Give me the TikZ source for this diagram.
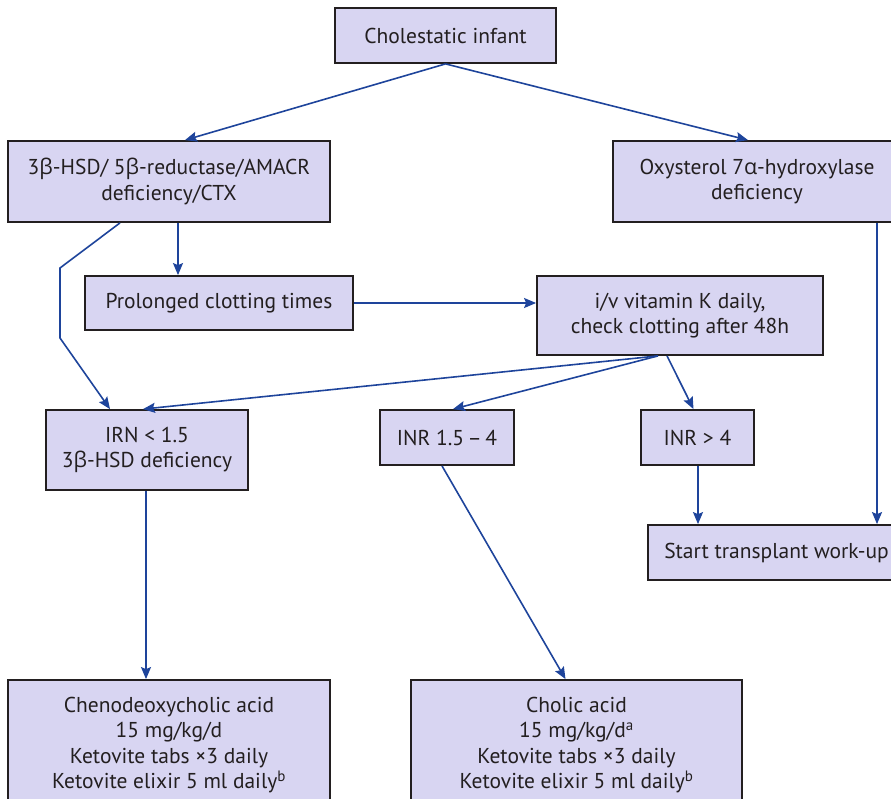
\documentclass[tikz,border=0pt]{standalone}
\usepackage{fontspec}
\setmainfont{PT Sans}
\newfontfamily\greekfont{Open Sans}
\newcommand{\gb}{{\greekfont β}}
\newcommand{\ga}{{\greekfont α}}
\usetikzlibrary{arrows.meta,calc}
\definecolor{boxfill}{RGB}{216,213,242}
\definecolor{boxline}{RGB}{35,31,32}
\definecolor{linkblue}{RGB}{30,68,155}
\begin{document}
\begin{tikzpicture}[x=1pt,y=-1pt,
  box/.style={draw=boxline, line width=1.8pt, fill=boxfill, inner sep=0pt,
    align=center, font=\fontsize{21.5}{25.5}\selectfont, text=boxline},
  link/.style={draw=linkblue, line width=1.6pt,
    -{Stealth[length=12pt,width=10pt,inset=2pt]}},
]
\useasboundingbox (0,0) rectangle (891,798);
\clip (0,0) rectangle (891,798);

% boxes
\node[box, minimum width=221pt, minimum height=55pt] (top) at (445.5,35.5) {Cholestatic infant};
\node[box, minimum width=322pt, minimum height=81pt] (L1) at (169,181.5)
  {3\gb-HSD/ 5\gb-reductase/AMACR\\deficiency/CTX};
\node[box, minimum width=288pt, minimum height=81pt] (R1) at (757,181.5)
  {Oxysterol 7\ga-hydroxylase\\deficiency};
\node[box, minimum width=268pt, minimum height=54pt] (clot) at (219,303) {Prolonged clotting times};
\node[box, minimum width=286pt, minimum height=79pt] (vitK) at (680,315.5)
  {i/v vitamin K daily,\\check clotting after 48h};
\node[box, minimum width=202pt, minimum height=80pt] (irn) at (147,450)
  {IRN < 1.5\\3\gb-HSD deficiency};
\node[box, minimum width=134pt, minimum height=55pt] (mid) at (447,437.5) {INR 1.5\,–\,4};
\node[box, minimum width=113pt, minimum height=55pt] (high) at (697.5,437.5) {INR > 4};
\node[box, minimum width=257pt, minimum height=55pt] (tx) at (776.5,552.5) {Start transplant work-up};
\node[box, minimum width=322pt, minimum height=130pt] (cdca) at (169,745)
  {Chenodeoxycholic acid\\15 mg/kg/d\\Ketovite tabs ×3 daily\\Ketovite elixir 5 ml daily\textsuperscript{b}};
\node[box, minimum width=331pt, minimum height=130pt] (ca) at (576.5,745)
  {Cholic acid\\15 mg/kg/d\textsuperscript{a}\\Ketovite tabs ×3 daily\\Ketovite elixir 5 ml daily\textsuperscript{b}};

% bends of the left-hand connector
\coordinate (bendA) at (60,268);
\coordinate (bendB) at (60,338);
% feet of the vertical connectors
\coordinate (r1foot) at ($(R1.south)+(120,0)$);
\coordinate (irnfoot) at ($(irn.south)+(-1,0)$);
\coordinate (l1foot) at ($(L1.south)+(9,0)$);
\coordinate (highfoot) at ($(high.south)+(0.5,0)$);

% connectors
\draw[link] (top.south) -- ($(L1.north)+(16,0)$);
\draw[link] (top.south) -- ($(R1.north)+(-9,0)$);
\draw[link] (l1foot) -- (l1foot |- clot.north);
\draw[link] ($(L1.south)+(-49,0)$) -- (bendA) -- (bendB) -- ($(irn.north)+(-37,0)$);
\draw[link] (clot.east) -- (clot.east -| vitK.west);
\draw[link] ($(vitK.south)+(-22,0)$) -- ($(irn.north)+(-4,0)$);
\draw[link] ($(vitK.south)+(-22,0)$) -- ($(mid.north)+(6,0)$);
\draw[link] ($(vitK.south)+(-13,0)$) -- ($(high.north)+(-4,0)$);
\draw[link] (highfoot) -- (highfoot |- tx.north);
\draw[link] (r1foot) -- (r1foot |- tx.north);
\draw[link] (irnfoot) -- (irnfoot |- cdca.north);
\draw[link] ($(mid.south)+(-5,0)$) -- ($(ca.north)+(-11,0)$);
\end{tikzpicture}
\end{document}
